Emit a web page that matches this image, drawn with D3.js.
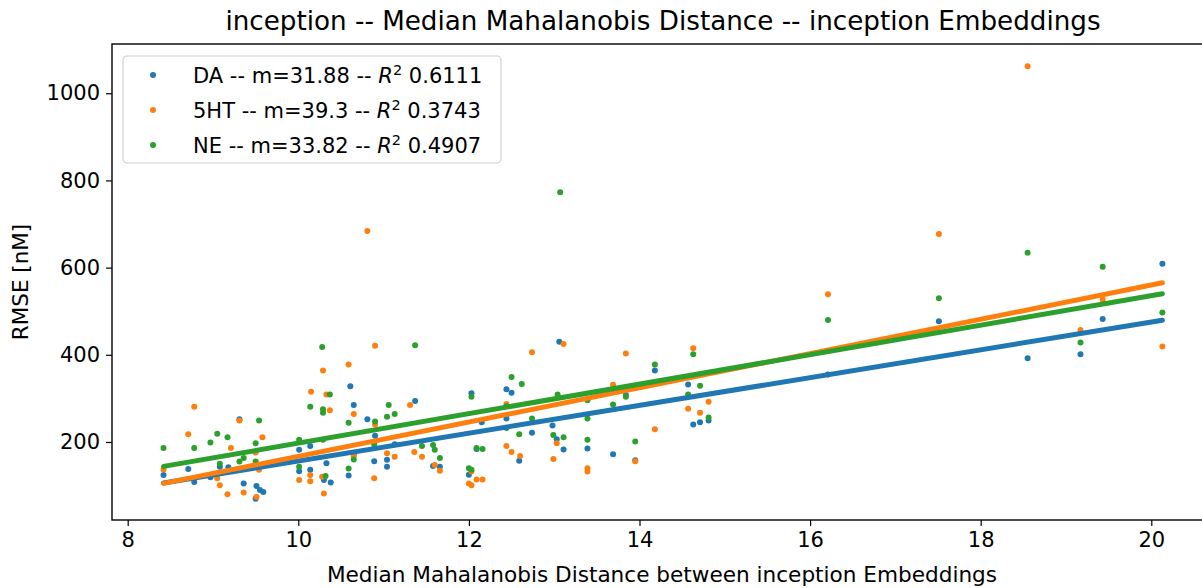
<!DOCTYPE html>
<html>
<head>
<meta charset="utf-8">
<script src="https://cdn.jsdelivr.net/npm/d3@7"></script>
<style>
  body { margin: 0; background: #fff; }
  svg text { font-family: "DejaVu Sans", sans-serif; fill: #000; }
</style>
</head>
<body>
<div id="chart"></div>
<script>
// data: [median mahalanobis distance, rmse]
const daPoints = [
    [8.42, 124], [8.71, 138], [8.78, 108], [8.97, 119], [9.08, 143], [9.18, 142],
    [9.31, 252], [9.36, 105], [9.51, 99], [9.55, 90], [9.59, 85], [9.50, 70],
    [10.01, 182], [10.01, 133], [10.14, 136], [10.14, 191], [10.33, 151], [10.30, 113],
    [10.38, 107], [10.61, 328], [10.59, 123], [10.65, 285], [10.65, 172], [10.81, 252],
    [10.90, 214], [10.89, 156], [11.04, 159], [11.04, 143], [11.13, 195], [11.37, 294],
    [11.58, 145], [11.66, 143], [12.03, 312], [12.00, 125], [12.09, 184], [12.15, 245],
    [12.44, 321], [12.50, 313], [12.44, 254], [12.59, 157], [12.74, 221], [12.98, 238],
    [13.03, 206], [13.06, 430], [13.11, 183], [13.39, 185], [13.69, 172], [13.84, 308],
    [13.95, 158], [14.18, 364], [14.57, 332], [14.63, 240], [14.71, 245], [14.81, 249],
    [16.21, 355], [17.51, 477], [18.55, 392], [19.17, 401], [19.43, 482], [20.13, 609],
];
const htPoints = [
    [8.42, 137], [8.71, 218], [8.78, 281], [9.05, 117], [9.08, 101], [9.17, 80],
    [9.21, 186], [9.31, 249], [9.36, 84], [9.50, 176], [9.51, 74], [9.54, 136],
    [9.58, 211], [10.01, 113], [10.14, 124], [10.14, 110], [10.15, 315], [10.29, 364],
    [10.33, 309], [10.37, 273], [10.28, 120], [10.30, 82], [10.59, 378], [10.65, 264],
    [10.65, 167], [10.81, 684], [10.90, 421], [10.90, 240], [10.89, 117], [11.04, 174],
    [11.13, 166], [11.31, 285], [11.36, 177], [11.45, 166], [11.60, 147], [11.66, 134],
    [12.00, 105], [12.03, 101], [12.03, 132], [12.09, 114], [12.16, 114], [12.44, 287],
    [12.44, 191], [12.50, 177], [12.60, 168], [12.74, 406], [12.99, 161], [13.03, 197],
    [13.11, 425], [13.39, 140], [13.39, 132], [13.69, 331], [13.84, 403], [13.95, 156],
    [14.18, 229], [14.57, 276], [14.63, 415], [14.71, 267], [14.81, 292], [16.21, 539],
    [17.51, 677], [18.55, 1062], [19.17, 457], [19.43, 527], [20.13, 419],
];
const nePoints = [
    [8.42, 186], [8.78, 186], [8.97, 199], [9.05, 219], [9.08, 150], [9.17, 211],
    [9.31, 155], [9.36, 163], [9.50, 197], [9.50, 155], [9.54, 249], [10.01, 205],
    [10.01, 143], [10.14, 281], [10.28, 418], [10.29, 275], [10.29, 267], [10.29, 205],
    [10.32, 122], [10.37, 309], [10.59, 244], [10.59, 139], [10.65, 160], [10.90, 247],
    [10.89, 195], [11.06, 285], [11.04, 258], [11.13, 264], [11.37, 422], [11.45, 191],
    [11.58, 193], [11.60, 182], [11.66, 163], [12.00, 140], [12.03, 136], [12.03, 304],
    [12.09, 186], [12.16, 184], [12.44, 232], [12.44, 282], [12.50, 349], [12.59, 218],
    [12.62, 333], [12.74, 254], [12.99, 216], [13.04, 309], [13.07, 773], [13.11, 211],
    [13.39, 254], [13.39, 296], [13.39, 205], [13.69, 286], [13.84, 304], [13.95, 201],
    [14.18, 378], [14.57, 309], [14.63, 401], [14.71, 329], [14.81, 256], [16.21, 480],
    [17.51, 530], [18.55, 634], [19.17, 428], [19.43, 602], [20.13, 497],
];

const seriesNames = ['DA', '5HT', 'NE'];
const slopes = [31.88, 39.3, 33.82];
const intercepts = [-162.4, -225.9, -140.8];
const rSquared = ['0.6111', '0.3743', '0.4907'];
const colors = ['#1f77b4', '#ff7f0e', '#2ca02c'];

const xTicks = [8, 10, 12, 14, 16, 18, 20];
const yTicks = [200, 400, 600, 800, 1000];

const width = 1202;
const height = 588;
const margin = {
    top: 44,
    right: -9, // right spine falls just outside the picture
    bottom: 68,
    left: 112,
};

const svg = d3.select('#chart')
    .append('svg')
    .attr('width', width)
    .attr('height', height);

// Scale
const xScale = d3.scaleLinear()
    .domain([7.816, 20.70])
    .range([margin.left, width - margin.right]);

const yScale = d3.scaleLinear()
    .domain([21, 1113])
    .range([height - margin.bottom, margin.top]);

const allSeries = [daPoints, htPoints, nePoints];

// Scatter, then the fit lines on top
const plot = svg.append('g');
allSeries.forEach((points, i) => {
    plot.append('g')
        .selectAll('circle')
        .data(points)
        .join('circle')
        .attr('cx', (d) => xScale(d[0]))
        .attr('cy', (d) => yScale(d[1]))
        .attr('r', 3)
        .attr('fill', colors[i]);
});
allSeries.forEach((points, i) => {
    const ext = d3.extent(points, (d) => d[0]);
    const fit = ext.map((x) => [x, slopes[i] * x + intercepts[i]]);
    plot.append('path')
        .attr('d', d3.line().x((d) => xScale(d[0])).y((d) => yScale(d[1]))(fit))
        .attr('stroke', colors[i])
        .attr('stroke-width', 5)
        .attr('stroke-linecap', 'round')
        .attr('fill', 'none');
});

// X Axis
const xAxis = d3.axisBottom(xScale)
    .tickValues(xTicks)
    .tickSizeInner(6)
    .tickSizeOuter(0)
    .tickPadding(6)
    .tickFormat(d3.format('d'));
const gx = svg.append('g')
    .attr('transform', `translate(0,${height - margin.bottom})`)
    .call(xAxis);
gx.select('.domain').remove();
gx.selectAll('line').attr('stroke', '#000').attr('stroke-width', 1.2);
gx.selectAll('text').style('font-size', '21px').attr('fill', '#000');

// Y Axis
const yAxis = d3.axisLeft(yScale)
    .tickValues(yTicks)
    .tickSizeInner(6)
    .tickSizeOuter(0)
    .tickPadding(6)
    .tickFormat(d3.format('d'));
const gy = svg.append('g')
    .attr('transform', `translate(${margin.left},0)`)
    .call(yAxis);
gy.select('.domain').remove();
gy.selectAll('line').attr('stroke', '#000').attr('stroke-width', 1.2);
gy.selectAll('text').style('font-size', '21px').attr('fill', '#000');

// Frame
svg.append('rect')
    .attr('x', margin.left)
    .attr('y', margin.top)
    .attr('width', width - margin.right - margin.left)
    .attr('height', height - margin.bottom - margin.top)
    .attr('fill', 'none')
    .attr('stroke', '#000')
    .attr('stroke-width', 1.4);

// Title and axis labels
svg.append('text')
    .attr('x', 663)
    .attr('y', 30)
    .attr('text-anchor', 'middle')
    .style('font-size', '26.2px')
    .text('inception -- Median Mahalanobis Distance -- inception Embeddings');

svg.append('text')
    .attr('x', 662)
    .attr('y', 582)
    .attr('text-anchor', 'middle')
    .style('font-size', '21.6px')
    .text('Median Mahalanobis Distance between inception Embeddings');

svg.append('text')
    .attr('transform', `translate(28,${(margin.top + height - margin.bottom) / 2}) rotate(-90)`)
    .attr('text-anchor', 'middle')
    .style('font-size', '21.5px')
    .text('RMSE [nM]');

// Legend
const legend = svg.append('g').attr('transform', 'translate(123,56)');
legend.append('rect')
    .attr('width', 378)
    .attr('height', 107)
    .attr('rx', 4)
    .attr('fill', '#fff')
    .attr('fill-opacity', 0.8)
    .attr('stroke', '#d0d0d0')
    .attr('stroke-width', 1.2);

seriesNames.forEach((name, i) => {
    const row = legend.append('g').attr('transform', `translate(0,${19 + i * 35})`);
    row.append('circle')
        .attr('cx', 30)
        .attr('cy', 0)
        .attr('r', 3)
        .attr('fill', colors[i]);
    const t = row.append('text')
        .attr('x', 70)
        .attr('y', 7.5)
        .style('font-size', '21px');
    t.append('tspan').text(`${name} -- m=${slopes[i]} -- `);
    t.append('tspan').style('font-style', 'italic').text('R');
    t.append('tspan').attr('dy', -8).style('font-size', '14.5px').text('2');
    t.append('tspan').attr('dy', 8).text(` ${rSquared[i]}`);
});
</script>
</body>
</html>
